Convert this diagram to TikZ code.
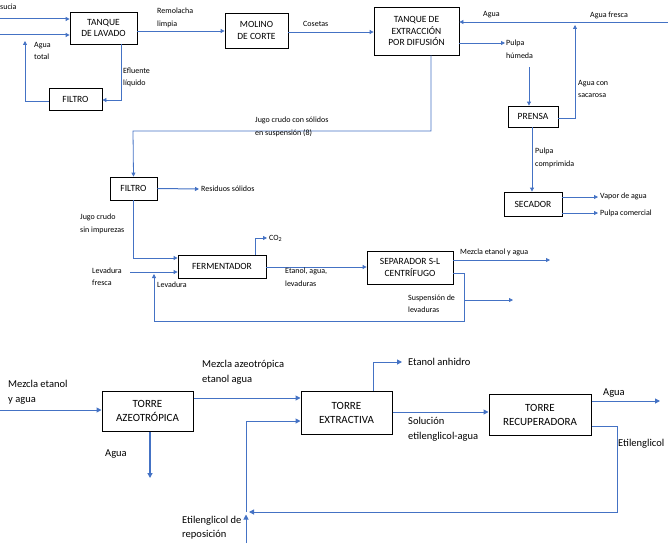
\documentclass[tikz,border=0pt]{standalone}
\usepackage{fontspec}
\setmainfont{Carlito}
\usetikzlibrary{arrows.meta}
\definecolor{flow}{HTML}{4472C4}
\begin{document}
\begin{tikzpicture}[x=1pt,y=-1pt,
  box/.style={draw=black,line width=0.8pt,inner sep=0pt,align=center,font=\fontsize{9.5}{11.5}\selectfont},
  bbox/.style={draw=black,line width=1pt,inner sep=0pt,align=center,font=\fontsize{11}{14}\selectfont},
  arr/.style={draw=flow,line width=0.8pt,-{Triangle[length=4pt,width=4pt]}},
  ln/.style={draw=flow,line width=0.8pt},
  barr/.style={draw=flow,line width=1pt,-{Triangle[length=5pt,width=5pt]}},
  bln/.style={draw=flow,line width=1pt},
  lbl/.style={inner sep=0pt,anchor=west,align=left,font=\fontsize{8}{12.5}\selectfont},
  blbl/.style={inner sep=0pt,anchor=west,align=left,font=\fontsize{10.5}{15}\selectfont}]
\useasboundingbox (0,0) rectangle (668,543);
\clip (0,0) rectangle (668,543);
% ---------- boxes ----------
\node[box,minimum width=67pt,minimum height=32pt] (lav) at (103.5,28) {TANQUE\\DE LAVADO};
\node[box,minimum width=63pt,minimum height=35pt] (mol) at (256.5,30.5) {MOLINO\\DE CORTE};
\node[box,minimum width=85pt,minimum height=48pt] (ext) at (416.5,31) {TANQUE DE\\EXTRACCIÓN\\POR DIFUSIÓN};
\node[box,minimum width=53pt,minimum height=22pt] (fil1) at (75.5,99) {FILTRO};
\node[box,minimum width=50pt,minimum height=21pt] (pre) at (533,116.5) {PRENSA};
\node[box,minimum width=58pt,minimum height=24pt] (sec) at (533,204) {SECADOR};
\node[box,minimum width=47pt,minimum height=23pt] (fil2) at (133.5,188.5) {FILTRO};
\node[box,minimum width=88pt,minimum height=23pt] (fer) at (222,266.5) {FERMENTADOR};
\node[box,minimum width=86pt,minimum height=33pt] (sep) at (410,267.5) {SEPARADOR S-L\\CENTRÍFUGO};
\node[bbox,minimum width=91pt,minimum height=40pt] (azeo) at (147.5,411) {TORRE\\AZEOTRÓPICA};
\node[bbox,minimum width=91pt,minimum height=43pt] (extr) at (346.5,412.5) {TORRE\\EXTRACTIVA};
\node[bbox,minimum width=102pt,minimum height=41pt] (recu) at (540,414.5) {TORRE\\RECUPERADORA};
% ---------- free ends ----------
\coordinate (in1) at (0,19);
\coordinate (in2) at (0,35);
\coordinate (ret1) at (25,41);
\coordinate (fresca) at (668,22);
\coordinate (phum) at (505,43);
\coordinate (sacar) at (575,25);
\coordinate (vapor) at (598,197);
\coordinate (pcom) at (598,213);
\coordinate (resid) at (199,189);
\coordinate (co2) at (267,238);
\coordinate (levf) at (130,272);
\coordinate (mez) at (550,260);
\coordinate (susp) at (513,300);
\coordinate (mez2) at (0,410);
\coordinate (aguaA) at (150,478);
\coordinate (anh) at (402,362);
\coordinate (aguaR) at (660,401);
\coordinate (repo) at (246,543);
\coordinate (jn) at (246,512);
% ---------- top connectors ----------
\draw[arr,line width=1pt] (in1) -- (in1 -| lav.west);
\draw[arr,line width=1pt] (in2) -- (in2 -| lav.west);
\draw[arr] (fil1.west |- 0,101) -| (ret1);
\draw[arr] (lav.south -| 121,0) |- (fil1.east |- 0,100);
\draw[arr] (lav.east |- 0,31) -- (mol.west |- 0,31);
\draw[arr] (mol.east |- 0,32) -- (ext.west |- 0,32);
\draw[arr] (fresca) -- (fresca -| ext.east);
\draw[arr] (ext.east |- phum) -- (phum);
\draw[arr] (529,67) -- (pre.north -| 529,0);
\draw[arr] (pre.east |- 0,118) -| (sacar);
\draw[arr] (pre.south -| 532,0) -- (sec.north -| 532,0);
\draw[arr] (sec.east |- vapor) -- (vapor);
\draw[arr] (sec.east |- pcom) -- (pcom);
\draw[arr] (ext.south -| 431,0) |- (133,131) -- (fil2.north);
\draw[arr,line width=1pt] (fil2.east) -- (resid);
\draw[arr] (fil2.south) |- (fer.west |- 0,258);
\draw[arr] (levf) -- (levf -| fer.west);
\draw[arr] (sep.east |- 0,273) -- (464,273) -- (464,321) -- (154,321) -- (154,274);
\draw[arr] (464,300) -- (susp);
\draw[arr] (fer.north -| 255,0) |- (co2);
\draw[arr] (fer.east |- 0,267) -- (sep.west |- 0,267);
\draw[arr] (sep.east |- mez) -- (mez);
% ---------- bottom connectors ----------
\draw[barr] (mez2) -- (mez2 -| azeo.west);
\draw[barr] (azeo.east |- 0,398) -- (extr.west |- 0,398);
\draw[barr,line width=1.4pt] (azeo.south -| aguaA) -- (aguaA);
\draw[barr] (extr.north -| 373,0) |- (anh);
\draw[barr] (extr.east |- 0,412) -- (recu.west |- 0,412);
\draw[barr] (recu.east |- aguaR) -- (aguaR);
\draw[barr] (recu.east |- 0,426) -| (617,512) -- (249,512);
\draw[barr] (repo) -- (246,514.5);
\draw[barr] (jn) |- (extr.west |- 0,421);
% ---------- labels ----------
\node[lbl] (t1) at (0,6.5) {sucia};
\node[lbl] (t2) at (34,51) {Agua\\total};
\node[lbl] (t3) at (157,18) {Remolacha\\limpia};
\node[lbl] (t4) at (123,77.5) {Efluente\\líquido};
\node[lbl] (t5) at (303,24) {Cosetas};
\node[lbl] (t6) at (483,15) {Agua};
\node[lbl] (t7) at (590,15) {Agua fresca};
\node[lbl] (t8) at (506,49.5) {Pulpa\\húmeda};
\node[lbl] (t9) at (578,89) {Agua con\\sacarosa};
\node[lbl] (t10) at (255,127) {Jugo crudo con sólidos\\en suspensión (8)};
\node[lbl] (t11) at (535,158) {Pulpa\\comprimida};
\node[lbl] (t12) at (600,196) {Vapor de agua};
\node[lbl] (t13) at (600,213) {Pulpa comercial};
\node[lbl] (t14) at (201,189) {Residuos sólidos};
\node[lbl] (t15) at (80,224) {Jugo crudo\\sin impurezas};
\node[lbl] (t16) at (269,238) {CO\textsubscript{2}};
\node[lbl] (t17) at (92,276.5) {Levadura\\fresca};
\node[lbl] (t18) at (157,285) {Levadura};
\node[lbl] (t19) at (285,277) {Etanol, agua,\\levaduras};
\node[lbl] (t20) at (460,252) {Mezcla etanol y agua};
\node[lbl] (t21) at (408,303.5) {Suspensión de\\levaduras};
\node[blbl] (b1) at (8,392.5) {Mezcla etanol\\y agua};
\node[blbl] (b2) at (202,372.5) {Mezcla azeotrópica\\etanol agua};
\node[blbl] (b3) at (105,454) {Agua};
\node[blbl] (b4) at (408,362) {Etanol anhidro};
\node[blbl] (b5) at (408,429.5) {Solución\\etilenglicol-agua};
\node[blbl] (b6) at (603,393) {Agua};
\node[blbl] (b7) at (618,444) {Etilenglicol};
\node[blbl,font=\fontsize{10.5}{14}\selectfont] (b8) at (182,528) {Etilenglicol de\\reposición};
\end{tikzpicture}
\end{document}
